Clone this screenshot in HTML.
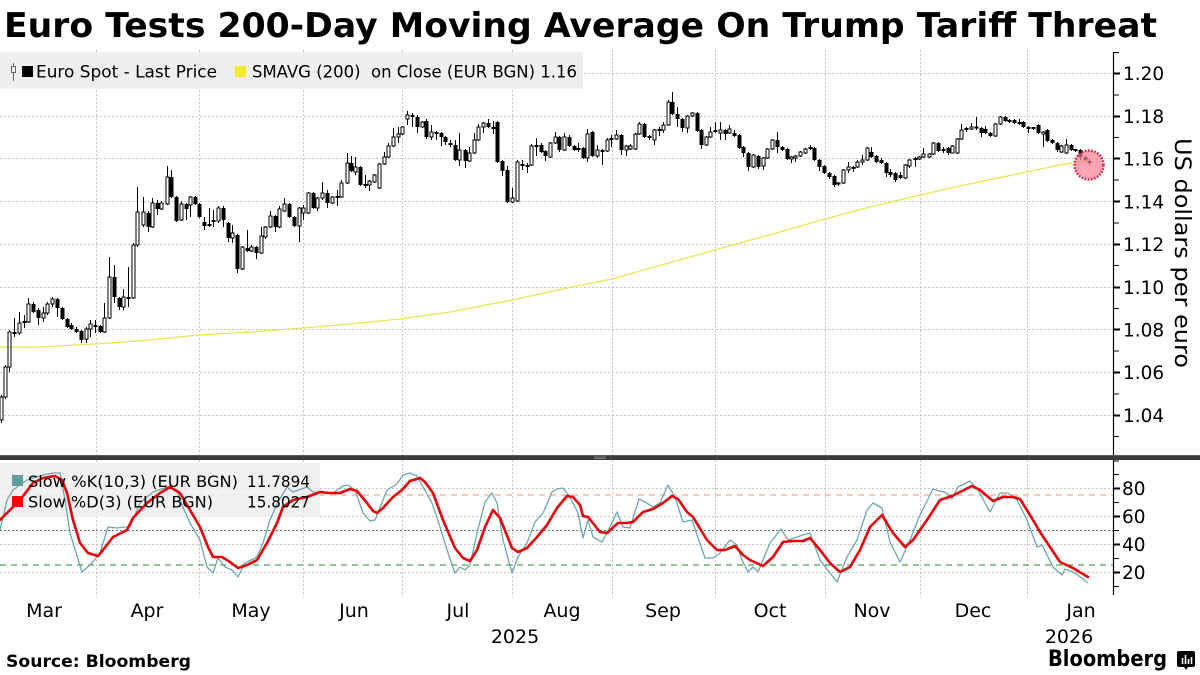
<!DOCTYPE html>
<html><head><meta charset="utf-8"><style>
html,body{margin:0;padding:0;background:#fff;}
svg{display:block;}
.t{font-family:"DejaVu Sans","Liberation Sans",sans-serif;fill:#000;}
</style></head><body>
<svg width="1200" height="675" viewBox="0 0 1200 675" xmlns="http://www.w3.org/2000/svg">
<rect width="1200" height="675" fill="#fff"/>
<!-- Title -->
<text class="t" x="4" y="37" font-size="34" font-weight="bold" textLength="1153" lengthAdjust="spacingAndGlyphs">Euro Tests 200-Day Moving Average On Trump Tariff Threat</text>

<!-- Upper grid -->
<g stroke="#c4c4c4" stroke-width="1" stroke-dasharray="2,2" fill="none">
<path d="M0 73.5H1113M0 116.5H1113M0 158.5H1113M0 201.5H1113M0 244.5H1113M0 287.5H1113M0 329.5H1113M0 372.5H1113M0 415.5H1113"/>
<path d="M96.5 50V455M199.5 50V455M303.5 50V455M402.5 50V455M512.5 50V455M612.5 50V455M715.5 50V455M825.5 50V455M920.5 50V455M1027.5 50V455"/>
</g>
<!-- Upper legend -->
<rect x="0" y="52" width="583" height="37" fill="#eeeeee" opacity="0.92"/>
<path d="M13.5 63V81" stroke="#666" stroke-width="1"/>
<rect x="11.5" y="66.5" width="4" height="6" fill="#eee" stroke="#666" stroke-width="1"/>
<rect x="22" y="66" width="11" height="11" fill="#000"/>
<text class="t" x="36" y="77.5" font-size="16.5" textLength="181" lengthAdjust="spacingAndGlyphs">Euro Spot - Last Price</text>
<rect x="235" y="66" width="11" height="11" fill="#f2ea2a"/>
<text class="t" x="252" y="77.5" font-size="16.5" xml:space="preserve" textLength="325" lengthAdjust="spacingAndGlyphs">SMAVG (200)  on Close (EUR BGN) 1.16</text>

<!-- SMA line -->
<polyline fill="none" stroke="#ebe453" stroke-width="1.3" points="0,347 40,347 95,344 150,340 199,335 250,332 303,328 350,324 400,319 450,312 512,300 577,286 612,279 665,264 715,250 740,243 780,232 825,219 870,207 920,195 960,186 993,179 1027,172 1060,165 1089,160"/>

<!-- Candles: wicks -->
<path fill="none" stroke="#000" stroke-width="1" d="M1.5 395V423M5.5 365V399M9.5 330V372M14.5 318V337M19.5 312V335M24.5 315V328M28.5 298V323M33.5 302V313M38.5 308V325M43.5 307V322M47.5 302V315M52.5 297V307M57.5 298V317M62.5 307V320M67.5 318V328M71.5 323V330M76.5 327V333M81.5 330V343M86.5 327V343M90.5 320V337M95.5 320V333M100.5 325V333M104.5 303V333M109.5 257V319M114.5 265V303M119.5 297V310M123.5 289V310M128.5 267V307M133.5 243V299M137.5 187V247M143.5 197V227M148.5 211V232M152.5 198V228M157.5 200V215M161.5 201V210M167.5 166V205M171.5 170V198M176.5 196V222M181.5 201V221M186.5 203V220M190.5 196V217M195.5 196V205M199.5 203V218M204.5 217V230M209.5 208V227M213.5 210V227M218.5 206V223M223.5 206V227M228.5 222V242M232.5 225V243M237.5 234V273M242.5 246V270M247.5 230V252M251.5 245V252M256.5 246V259M261.5 227V254M265.5 226V239M270.5 211V228M275.5 215V232M279.5 206V228M284.5 198V212M289.5 203V218M294.5 216V227M299.5 207V242M303.5 205V220M308.5 192V214M313.5 192V209M317.5 197V211M322.5 182V200M327.5 190V208M332.5 196V204M337.5 190V206M341.5 180V198M347.5 153V184M351.5 156V172M355.5 157V175M360.5 166V186M365.5 175V188M369.5 180V191M374.5 174V183M379.5 163V189M384.5 152V165M388.5 143V158M393.5 128V147M398.5 127V143M402.5 126V135M407.5 111V125M412.5 113V127M417.5 115V133M422.5 121V128M426.5 119V139M431.5 125V140M436.5 131V140M441.5 132V146M445.5 136V145M450.5 140V147M455.5 140V161M459.5 133V166M465.5 149V168M469.5 147V162M474.5 133V154M478.5 124V141M483.5 122V133M488.5 119V128M493.5 121V134M497.5 121V163M502.5 160V176M507.5 166V203M512.5 188V203M517.5 160V202M522.5 160V170M527.5 163V173M531.5 144V166M536.5 138V156M541.5 143V153M545.5 150V161M550.5 142V158M555.5 132V144M559.5 136V152M564.5 133V151M569.5 135V147M574.5 145V151M578.5 143V152M583.5 147V159M587.5 129V162M592.5 131V157M597.5 145V158M602.5 149V165M607.5 138V152M611.5 135V147M616.5 130V140M621.5 134V155M626.5 145V156M630.5 144V150M635.5 133V150M639.5 122V135M644.5 123V138M649.5 135V140M654.5 129V145M659.5 127V136M663.5 122V133M668.5 100V126M672.5 92V115M677.5 107V127M682.5 118V132M687.5 115V133M692.5 112V117M697.5 112V132M701.5 129V149M706.5 136V146M710.5 127V138M715.5 122V133M720.5 122V140M725.5 129V140M729.5 125V134M734.5 130V137M739.5 134V149M743.5 146V157M748.5 152V171M753.5 154V168M758.5 155V169M763.5 157V170M767.5 148V159M772.5 139V150M777.5 132V153M782.5 146V151M787.5 148V160M791.5 156V163M795.5 155V162M800.5 151V157M805.5 148V154M810.5 145V150M814.5 147V161M819.5 159V171M824.5 165V174M829.5 172V179M834.5 175V187M838.5 182V186M843.5 169V184M848.5 162V173M853.5 166V172M857.5 160V168M862.5 155V165M867.5 147V161M871.5 147V158M876.5 155V163M881.5 158V164M886.5 162V177M890.5 169V177M895.5 172V182M900.5 172V179M905.5 164V179M909.5 159V168M915.5 157V167M919.5 156V160M923.5 148V158M929.5 153V158M933.5 142V155M938.5 142V152M943.5 147V153M948.5 147V155M952.5 145V153M957.5 138V154M961.5 124V140M966.5 127V132M971.5 123V130M976.5 117V130M981.5 127V137M985.5 126V134M990.5 132V137M995.5 123V137M1000.5 116V125M1005.5 116V122M1009.5 119V123M1014.5 119V124M1019.5 119V125M1023.5 121V128M1028.5 126V133M1033.5 127V130M1038.5 124V134M1043.5 131V147M1047.5 129V142M1052.5 139V144M1057.5 142V152M1061.5 145V153M1066.5 139V154M1071.5 144V151M1075.5 149V152M1080.5 149V160M1085.5 156V161M1089.5 159V165"/>
<!-- filled bodies -->
<path fill="#000" d="M12.5 332h4v2h-4zM22.5 321h4v2h-4zM31.5 304h4v8h-4zM36.5 310h4v8h-4zM55.5 299h4v9h-4zM60.5 308h4v11h-4zM65.5 319h4v8h-4zM69.5 325h4v4h-4zM74.5 329h4v3h-4zM79.5 331h4v9h-4zM93.5 325h4v2h-4zM98.5 326h4v6h-4zM112.5 277h4v20h-4zM117.5 298h4v9h-4zM126.5 297h4v2h-4zM146.5 213h4v14h-4zM155.5 203h4v6h-4zM169.5 177h4v20h-4zM174.5 197h4v24h-4zM184.5 204h4v5h-4zM193.5 197h4v7h-4zM197.5 204h4v13h-4zM202.5 222h4v4h-4zM207.5 224h4v2h-4zM211.5 220h4v2h-4zM221.5 208h4v12h-4zM226.5 223h4v15h-4zM235.5 235h4v34h-4zM245.5 248h4v3h-4zM254.5 247h4v6h-4zM273.5 216h4v11h-4zM287.5 204h4v13h-4zM292.5 217h4v9h-4zM311.5 193h4v15h-4zM325.5 193h4v10h-4zM335.5 196h4v2h-4zM349.5 163h4v8h-4zM358.5 167h4v18h-4zM363.5 184h4v2h-4zM410.5 115h4v2h-4zM415.5 117h4v10h-4zM424.5 121h4v16h-4zM434.5 132h4v2h-4zM439.5 133h4v4h-4zM443.5 137h4v5h-4zM448.5 143h4v2h-4zM453.5 145h4v15h-4zM463.5 150h4v11h-4zM486.5 123h4v4h-4zM491.5 127h4v2h-4zM495.5 122h4v40h-4zM500.5 161h4v10h-4zM505.5 170h4v32h-4zM520.5 164h4v2h-4zM525.5 165h4v2h-4zM534.5 145h4v2h-4zM539.5 145h4v7h-4zM543.5 151h4v5h-4zM557.5 137h4v13h-4zM567.5 137h4v9h-4zM572.5 146h4v4h-4zM576.5 148h4v2h-4zM581.5 148h4v10h-4zM590.5 132h4v24h-4zM600.5 150h4v2h-4zM609.5 138h4v2h-4zM619.5 135h4v15h-4zM642.5 124h4v13h-4zM647.5 136h4v2h-4zM657.5 129h4v2h-4zM670.5 102h4v12h-4zM675.5 114h4v5h-4zM680.5 119h4v9h-4zM695.5 113h4v18h-4zM699.5 130h4v15h-4zM713.5 130h4v2h-4zM723.5 130h4v4h-4zM732.5 133h4v3h-4zM737.5 135h4v13h-4zM741.5 147h4v6h-4zM746.5 153h4v14h-4zM756.5 156h4v11h-4zM775.5 140h4v7h-4zM780.5 147h4v3h-4zM785.5 149h4v10h-4zM808.5 147h4v2h-4zM812.5 148h4v12h-4zM817.5 160h4v7h-4zM822.5 166h4v7h-4zM827.5 173h4v4h-4zM832.5 176h4v9h-4zM836.5 182.5h4v2h-4zM851.5 167h4v2h-4zM869.5 152h4v5h-4zM874.5 156h4v6h-4zM879.5 160h4v3h-4zM884.5 163h4v10h-4zM888.5 172h4v3h-4zM893.5 173h4v7h-4zM898.5 175h4v3h-4zM913.5 158h4v2h-4zM936.5 143h4v8h-4zM941.5 149h4v2h-4zM946.5 148h4v5h-4zM964.5 128h4v2h-4zM974.5 126.5h4v2h-4zM979.5 128h4v5h-4zM983.5 129h4v4h-4zM988.5 133h4v3h-4zM1003.5 117h4v4h-4zM1007.5 120h4v2h-4zM1012.5 120h4v3h-4zM1017.5 122h4v2h-4zM1021.5 122h4v5h-4zM1026.5 127h4v2h-4zM1031.5 127h4v2h-4zM1036.5 125h4v8h-4zM1045.5 130h4v11h-4zM1050.5 140h4v3h-4zM1055.5 143h4v7h-4zM1069.5 145h4v5h-4zM1073.5 149h4v2h-4zM1078.5 150h4v7h-4zM1083.5 157h4v3h-4zM1087.5 161h4v2h-4z"/>
<!-- hollow bodies -->
<path fill="#fff" stroke="#000" stroke-width="1" d="M0 397h3v23h-3zM4 367h3v30h-3zM8 332h3v35h-3zM18 323h3v10h-3zM27 304h3v18h-3zM42 313h3v5h-3zM46 304h3v9h-3zM51 299h3v5h-3zM85 329h3v10h-3zM89 324h3v5h-3zM103 318h3v14h-3zM108 277h3v41h-3zM122 297h3v10h-3zM132 245h3v53h-3zM136 212h3v33h-3zM142 212h3v13h-3zM151 203h3v24h-3zM160 203h3v6h-3zM166 177h3v27h-3zM180 204h3v16h-3zM189 197h3v8h-3zM217 208h3v13h-3zM231 233h3v5h-3zM241 247h3v22h-3zM250 247h3v4h-3zM260 236h3v17h-3zM264 227h3v10h-3zM269 216h3v11h-3zM278 209h3v18h-3zM283 204h3v7h-3zM298 208h3v18h-3zM302 208h3v5h-3zM307 193h3v20h-3zM316 198h3v10h-3zM321 193h3v5h-3zM331 197h3v6h-3zM340 183h3v14h-3zM346 163h3v20h-3zM354 167h3v5h-3zM368 181h3v4h-3zM373 175h3v7h-3zM378 164h3v24h-3zM383 157h3v7h-3zM387 146h3v11h-3zM392 137h3v9h-3zM397 134h3v3h-3zM401 127h3v7h-3zM406 115h3v4h-3zM421 122h3v5h-3zM430 132h3v5h-3zM458 150h3v10h-3zM468 153h3v8h-3zM473 140h3v13h-3zM477 127h3v13h-3zM482 123h3v4h-3zM511 198h3v4h-3zM516 162h3v39h-3zM530 146h3v19h-3zM549 143h3v14h-3zM554 137h3v6h-3zM563 137h3v13h-3zM586 134h3v24h-3zM596 150h3v6h-3zM606 140h3v11h-3zM615 135h3v4h-3zM625 146h3v4h-3zM629 146h3v3h-3zM634 134h3v15h-3zM638 124h3v10h-3zM653 130h3v10h-3zM662 125h3v5h-3zM667 102h3v23h-3zM686 116h3v12h-3zM691 113h3v3h-3zM705 137h3v8h-3zM709 132h3v5h-3zM719 130h3v3h-3zM728 129h3v4h-3zM752 155h3v12h-3zM762 158h3v8h-3zM766 149h3v9h-3zM771 140h3v9h-3zM790 157h3v2h-3zM794 156h3v2h-3zM799 152h3v4h-3zM804 149h3v4h-3zM842 170h3v13h-3zM847 167h3v3h-3zM856 162h3v5h-3zM861 160h3v2h-3zM866 148h3v12h-3zM904 165h3v13h-3zM908 160h3v6h-3zM918 157h3v2h-3zM922 154h3v3h-3zM928 154h3v3h-3zM932 143h3v11h-3zM951 146h3v7h-3zM956 139h3v14h-3zM960 130h3v9h-3zM970 127h3v2h-3zM994 124h3v12h-3zM999 117h3v7h-3zM1042 132h3v2h-3zM1060 146h3v6h-3zM1065 145h3v8h-3z"/>

<!-- highlight circle -->
<circle cx="1089" cy="165" r="14.5" fill="#ff7e92" fill-opacity="0.7" stroke="#d81e48" stroke-width="2.5" stroke-dasharray="1.6,1.6"/>

<!-- Upper axis -->
<path d="M1113.5 52V455" stroke="#000" stroke-width="1.2"/>
<path stroke="#000" stroke-width="2" d="M1113 73.5h7M1113 116.5h7M1113 158.5h7M1113 201.5h7M1113 244.5h7M1113 287.5h7M1113 329.5h7M1113 372.5h7M1113 415.5h7"/>
<path stroke="#000" stroke-width="1" d="M1113 52.5h6M1113 95h6M1113 137.5h6M1113 180h6M1113 223h6M1113 265.5h6M1113 308.5h6M1113 351h6M1113 394h6M1113 436.5h6"/>
<g class="t" font-size="18.5">
<text x="1123" y="80">1.20</text>
<text x="1123" y="123">1.18</text>
<text x="1123" y="165.5">1.16</text>
<text x="1123" y="208.5">1.14</text>
<text x="1123" y="251">1.12</text>
<text x="1123" y="294">1.10</text>
<text x="1123" y="336.5">1.08</text>
<text x="1123" y="379">1.06</text>
<text x="1123" y="422">1.04</text>
</g>
<text class="t" font-size="22" text-anchor="middle" transform="translate(1175,253) rotate(90)" textLength="230" lengthAdjust="spacingAndGlyphs">US dollars per euro</text>

<!-- Separator -->
<rect x="0" y="455" width="1200" height="5" fill="#3a3a3a"/>
<rect x="0" y="455" width="1200" height="1" fill="#5a5a5a"/>
<path d="M594 457h12M594 458.5h12" stroke="#8a8a8a" stroke-width="0.8"/>

<!-- Lower grid -->
<g fill="none" stroke-width="1">
<path stroke="#c4c4c4" stroke-dasharray="2,2" d="M96.5 460V597M199.5 460V597M303.5 460V597M402.5 460V597M512.5 460V597M612.5 460V597M715.5 460V597M825.5 460V597M920.5 460V597M1027.5 460V597"/>
<path stroke="#c4c4c4" stroke-dasharray="2,2" d="M0 488.5H1113M0 516.5H1113M0 544.5H1113M0 572.5H1113"/>
<path stroke="#5e7a86" stroke-dasharray="2,2" d="M0 530.5H1113"/>
<path stroke="#e59a72" stroke-dasharray="6,5" d="M0 495H1113"/>
<path stroke="#2a8a2a" stroke-dasharray="6,5" d="M0 565H1113"/>
</g>
<!-- Lower legend box -->
<rect x="0" y="463" width="320" height="54" fill="#eeeeee" opacity="0.85"/>

<!-- %K -->
<polyline fill="none" stroke="#6ea7ac" stroke-width="1.3" stroke-linejoin="round" points="0,530 7,500 13,490 27,480 43,475 53,473 60,473 65,500 70,533 82,572 92,563 100,553 108,527 117,528 125,527 130,527 140,503 153,492 167,487 177,490 182,505 190,523 200,540 207,567 213,573 218,558 225,567 232,570 238,577 245,563 257,557 263,543 270,520 278,502 287,487 293,492 307,487 313,492 327,493 333,493 343,486 348,485 355,490 363,513 370,521 375,520 387,490 397,484 403,475 410,473 417,476 423,487 432,503 440,527 448,553 455,573 460,567 465,570 470,565 477,533 485,502 492,493 497,503 503,540 512,573 518,557 527,543 535,522 543,513 552,492 557,489 563,488 570,497 578,513 583,538 588,520 593,537 602,542 610,527 617,512 623,527 630,528 639,499 647,503 653,507 660,503 668,485 675,497 683,522 692,520 705,558 713,558 720,553 730,540 737,545 742,560 748,572 753,567 758,572 770,543 781,529 788,540 803,535 810,533 820,560 830,573 837,582 847,557 857,540 867,510 873,503 882,508 890,542 900,562 910,540 920,515 933,489 947,493 952,499 958,487 970,481 978,490 990,512 1000,493 1008,493 1017,500 1027,520 1037,547 1042,545 1053,567 1062,575 1065,569 1075,573 1088,583"/>
<!-- %D -->
<polyline fill="none" stroke="#e8000a" stroke-width="2.6" stroke-linejoin="round" stroke-linecap="round" points="0,520 10,510 20,500 33,483 43,478 55,476 62,480 67,493 73,520 80,543 88,553 98,556 103,550 113,537 127,530 133,518 147,503 160,493 170,487 180,493 190,510 200,527 208,547 213,557 222,557 230,562 238,568 247,565 257,560 267,543 277,523 283,507 293,500 307,497 320,492 330,493 340,493 350,489 357,491 367,503 373,511 377,513 383,508 393,497 402,490 410,481 420,478 425,482 433,493 443,520 455,548 463,558 470,561 477,550 485,527 493,510 500,518 512,548 518,552 527,548 537,537 547,525 557,508 567,496 573,497 580,505 583,516 588,517 600,532 607,533 618,523 627,523 633,522 643,512 653,509 663,503 672,496 678,499 687,512 693,517 707,540 717,550 725,550 735,546 743,555 750,560 763,566 773,557 783,542 793,541 803,541 810,538 820,550 830,563 840,572 850,567 860,550 870,527 882,515 893,533 905,547 913,540 927,520 940,500 952,496 960,492 972,486 980,490 993,501 1003,497 1013,497 1020,499 1030,515 1040,532 1050,547 1060,562 1073,568 1088,577"/>

<!-- Lower legend content -->
<rect x="12" y="475" width="11" height="11" fill="#5f9ea0"/>
<rect x="12" y="496" width="11" height="11" fill="#ff0000"/>
<g class="t" font-size="16">
<text x="28" y="487" textLength="210" lengthAdjust="spacingAndGlyphs">Slow %K(10,3) (EUR BGN)</text>
<text x="247" y="487" textLength="63" lengthAdjust="spacingAndGlyphs">11.7894</text>
<text x="28" y="507.5" textLength="185" lengthAdjust="spacingAndGlyphs">Slow %D(3) (EUR BGN)</text>
<text x="247" y="507.5" textLength="63" lengthAdjust="spacingAndGlyphs">15.8027</text>
</g>

<!-- Lower axis -->
<path d="M1113.5 460V595" stroke="#000" stroke-width="1.2"/>
<path stroke="#000" stroke-width="2" d="M1113 488.5h7M1113 516.5h7M1113 544.5h7M1113 572.5h7"/>
<path stroke="#000" stroke-width="1" d="M1113 461h6M1113 474.5h6M1113 502.5h6M1113 530.5h6M1113 558.5h6M1113 586.5h6"/>
<g class="t" font-size="18.5">
<text x="1122" y="495">80</text>
<text x="1122" y="523">60</text>
<text x="1122" y="551">40</text>
<text x="1122" y="579">20</text>
</g>

<!-- X axis labels -->
<g class="t" font-size="19" text-anchor="middle">
<text x="44" y="617">Mar</text>
<text x="147" y="617">Apr</text>
<text x="251" y="617">May</text>
<text x="354" y="617">Jun</text>
<text x="458" y="617">Jul</text>
<text x="562" y="617">Aug</text>
<text x="663" y="617">Sep</text>
<text x="770" y="617">Oct</text>
<text x="872" y="617">Nov</text>
<text x="973" y="617">Dec</text>
<text x="1081" y="617">Jan</text>
<text x="515" y="643">2025</text>
<text x="1069" y="643">2026</text>
</g>

<!-- Footer -->
<text class="t" x="6" y="667" font-size="17" font-weight="bold" textLength="185" lengthAdjust="spacingAndGlyphs">Source: Bloomberg</text>
<text class="t" x="1048" y="666" font-size="22" font-weight="bold" textLength="119" lengthAdjust="spacingAndGlyphs">Bloomberg</text>
<path d="M1179 651h14a2 2 0 0 1 2 2v12a2 2 0 0 1-2 2h-5l-2 3l-2-3h-5a2 2 0 0 1-2-2v-12a2 2 0 0 1 2-2z" fill="#000"/>
<path d="M1182.5 664v-6M1185.5 664v-9M1188.5 664v-5M1191.5 664v-7" stroke="#fff" stroke-width="1.6"/>
</svg>
</body></html>
